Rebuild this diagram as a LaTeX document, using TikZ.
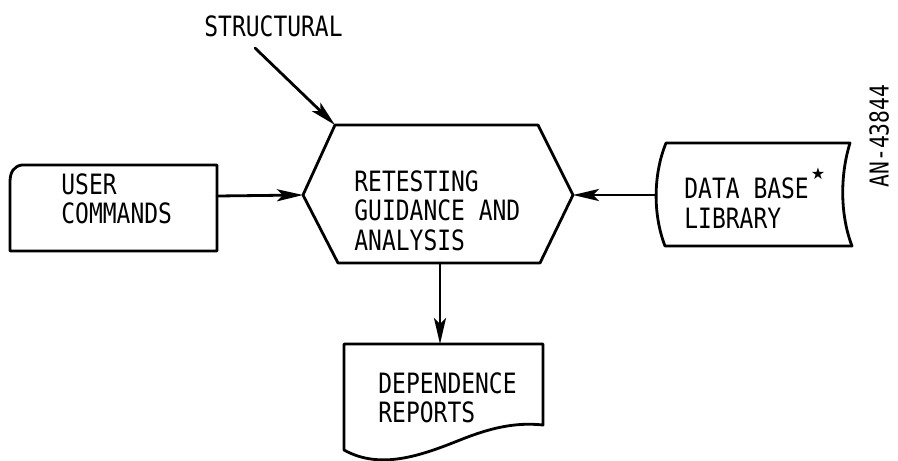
\documentclass[tikz,border=0pt]{standalone}
\usepackage{fontspec}
\newfontfamily\labelfont[FakeStretch=0.82]{DejaVu Sans Mono}
\newfontfamily\symfont{DejaVu Sans}
\usetikzlibrary{arrows.meta}
\begin{document}
\begin{tikzpicture}[x=1pt, y=-1pt, line width=2.8pt, line join=round, line cap=round,
		>={Stealth[length=26pt,width=12pt,inset=6pt]},
		lbl/.style={anchor=north west, inner sep=0pt, align=left,
			font=\labelfont\fontsize{28}{29.5}\selectfont}]
	\useasboundingbox (0,0) rectangle (898,461);
	% corner points of the hexagon
	\coordinate (hexNW) at (335,125); \coordinate (hexNE) at (538,125);
	\coordinate (hexE) at (573,195);  \coordinate (hexSE) at (540,263);
	\coordinate (hexSW) at (338,263); \coordinate (hexW) at (303,195);
	\coordinate (hexS) at (440,263);
	\draw (hexNW) -- (hexNE) -- (hexE) -- (hexSE) -- (hexSW) -- (hexW) -- cycle;
	\node[lbl] (retest) at (353,169) {RETESTING\\GUIDANCE AND\\ANALYSIS};
	% user commands (card)
	\coordinate (userE) at (217,196);
	\draw (10,251) -- (10,182) .. controls (10,172) and (14,166) .. (22,165) -- (217,165) -- (217,251) -- cycle;
	\node[lbl] (user) at (60,172) {USER\\COMMANDS};
	\draw[->] (userE) -- (hexW);
	% structural input
	\node[lbl] (struct) at (203,14) {STRUCTURAL};
	\coordinate (structS) at (255,48);
	\draw[->] (structS) -- (hexNW);
	% data base library (stored data)
	\coordinate (dbW) at (656,195);
	\draw (666,143) -- (850,143) .. controls (840,175) and (840,215) .. (852,246) -- (665,246)
		.. controls (653,215) and (653,175) .. (666,143) -- cycle;
	\node[lbl] (db) at (683,167) {DATA BASE\kern2pt\raisebox{19pt}{\symfont\fontsize{16}{16}\selectfont ★}\\LIBRARY};
	\draw[->] (dbW) -- (hexE);
	% dependence reports (document)
	\coordinate (repN) at (440,344);
	\draw (344,344) -- (543,344) -- (543,425) .. controls (515,422) and (490,428) .. (460,440)
		.. controls (420,456) and (380,470) .. (344,450) -- cycle;
	\node[lbl] (rep) at (377,371) {DEPENDENCE\\REPORTS};
	\draw[->] (hexS) -- (repN);
	% figure number
	\node[rotate=90, inner sep=0pt, text height=19pt, text depth=0pt,
		font=\labelfont\fontsize{26}{26}\selectfont] (fignum) at (879,136) {AN-43844};
\end{tikzpicture}
\end{document}
